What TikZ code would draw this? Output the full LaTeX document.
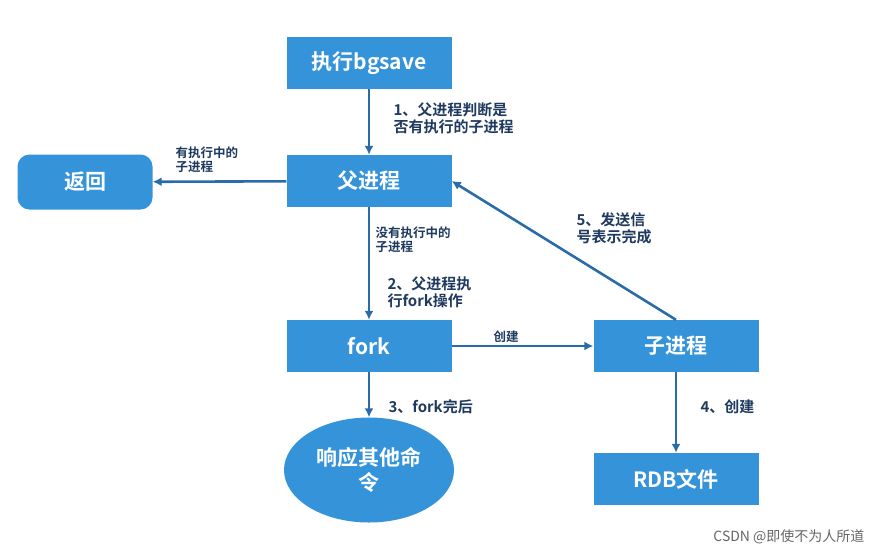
\documentclass[tikz,border=0pt]{standalone}
\usepackage{fontspec}
\setmainfont{Noto Sans CJK SC}[BoldFont={Noto Sans CJK SC Bold}]
\usetikzlibrary{arrows.meta,shapes.geometric}
\definecolor{boxblue}{HTML}{3593DA}
\definecolor{arr}{HTML}{2A6CA8}
\definecolor{lab}{HTML}{1F3A5F}
\begin{document}
\begin{tikzpicture}[x=1pt,y=-1pt,
  box/.style={fill=boxblue,draw=none,text=white,minimum width=165pt,minimum height=52pt,font=\fontsize{21}{25}\selectfont\bfseries},
  ar/.style={draw=arr,line width=2.6pt,-{Latex[length=9pt,width=9pt]}},
  lb/.style={text=lab,anchor=west,font=\fontsize{15}{17}\selectfont\bfseries,align=left},
  ls/.style={lb,font=\fontsize{12.5}{14}\selectfont\bfseries}]
\useasboundingbox (0,0) rectangle (882,558);
\node[box] (bg) at (369,63) {执行bgsave};
\node[box] (fu) at (369,181) {父进程};
\node[box,minimum width=135pt,minimum height=55pt,rounded corners=12pt] (fh) at (85,182) {返回};
\node[box] (fk) at (369,346) {fork};
\node[box] (zi) at (676,346) {子进程};
\node[fill=boxblue,ellipse,minimum width=170pt,minimum height=105pt,text=white,align=center,font=\fontsize{21}{25}\selectfont\bfseries] (xy) at (369,470) {响应其他命\\令};
\node[box] (rdb) at (676,479) {RDB文件};
\draw[ar] (bg) -- (fu);
\draw[ar] (fu) -- (fh);
\draw[ar] (fu) -- (fk);
\draw[ar] (fk) -- (zi);
\draw[ar] (fk) -- (xy);
\draw[ar] (zi) -- (rdb);
\draw[ar] (zi.north) -- (fu.east);
\node[lb] (l1) at (390,118) {1、父进程判断是\\否有执行的子进程};
\node[ls] (l2) at (172,160) {有执行中的\\子进程};
\node[ls] (l3) at (372,240) {没有执行中的\\子进程};
\node[lb] (l4) at (384,292) {2、父进程执\\行fork操作};
\node[ls] (l5) at (490,337) {创建};
\node[lb] (l6) at (385,407) {3、fork完后};
\node[lb] (l7) at (697,407) {4、创建};
\node[lb] (l8) at (573,228) {5、发送信\\号表示完成};
\node[text=gray!80!black,anchor=east,font=\fontsize{14}{16}\selectfont] (wm) at (868,537) {CSDN @即使不为人所道};
\end{tikzpicture}
\end{document}
